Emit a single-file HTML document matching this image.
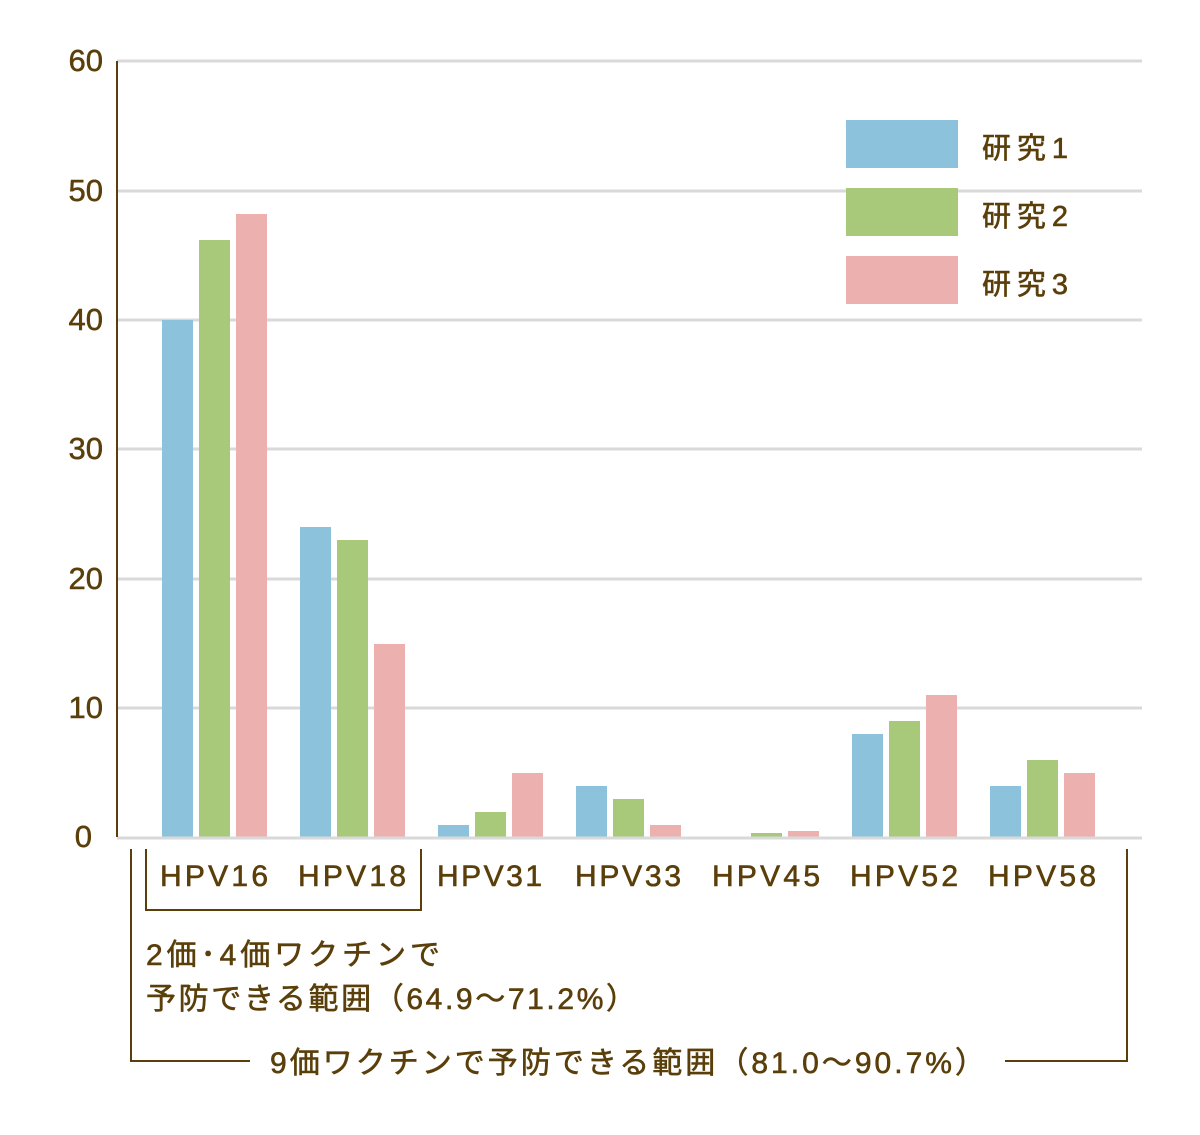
<!DOCTYPE html>
<html><head><meta charset="utf-8"><style>body{margin:0;background:#fff}</style></head><body>
<svg width="1200" height="1130" xmlns="http://www.w3.org/2000/svg" font-family="'Liberation Sans','Noto Sans CJK JP',sans-serif" fill="#5a3f0a">
<g stroke="#d9d9d9" stroke-width="3">
<line x1="117" y1="61" x2="1142" y2="61"/><line x1="117" y1="191" x2="1142" y2="191"/><line x1="117" y1="320" x2="1142" y2="320"/><line x1="117" y1="449" x2="1142" y2="449"/><line x1="117" y1="579" x2="1142" y2="579"/><line x1="117" y1="708" x2="1142" y2="708"/>
</g>
<g font-size="31" text-anchor="end" stroke="#5a3f0a" stroke-width="0.5">
<text x="103" y="71">60</text><text x="103" y="201">50</text><text x="103" y="330">40</text><text x="103" y="459">30</text><text x="103" y="589">20</text><text x="103" y="718">10</text><text x="92" y="847">0</text>
</g>
<g>
<rect x="162" y="320" width="31" height="517" fill="#8cc2dc"/><rect x="199" y="240" width="31" height="597" fill="#a8c97a"/><rect x="236" y="214" width="31" height="623" fill="#ecb1ae"/>
<rect x="300" y="527" width="31" height="310" fill="#8cc2dc"/><rect x="337" y="540" width="31" height="297" fill="#a8c97a"/><rect x="374" y="644" width="31" height="193" fill="#ecb1ae"/>
<rect x="438" y="825" width="31" height="12" fill="#8cc2dc"/><rect x="475" y="812" width="31" height="25" fill="#a8c97a"/><rect x="512" y="773" width="31" height="64" fill="#ecb1ae"/>
<rect x="576" y="786" width="31" height="51" fill="#8cc2dc"/><rect x="613" y="799" width="31" height="38" fill="#a8c97a"/><rect x="650" y="825" width="31" height="12" fill="#ecb1ae"/>
<rect x="751" y="833" width="31" height="4" fill="#a8c97a"/><rect x="788" y="831" width="31" height="6" fill="#ecb1ae"/>
<rect x="852" y="734" width="31" height="103" fill="#8cc2dc"/><rect x="889" y="721" width="31" height="116" fill="#a8c97a"/><rect x="926" y="695" width="31" height="142" fill="#ecb1ae"/>
<rect x="990" y="786" width="31" height="51" fill="#8cc2dc"/><rect x="1027" y="760" width="31" height="77" fill="#a8c97a"/><rect x="1064" y="773" width="31" height="64" fill="#ecb1ae"/>
</g>
<line x1="117" y1="838" x2="1142" y2="838" stroke="#d9d9d9" stroke-width="3"/>
<line x1="117" y1="61" x2="117" y2="837" stroke="#5a3f0a" stroke-width="2"/>
<g font-size="30" stroke="#5a3f0a" stroke-width="0.6">
<text x="160" y="886" textLength="108">HPV16</text><text x="298" y="886" textLength="108">HPV18</text><text x="437" y="886" textLength="105">HPV31</text><text x="575" y="886" textLength="106">HPV33</text><text x="712" y="886" textLength="108">HPV45</text><text x="850" y="886" textLength="108">HPV52</text><text x="988" y="886" textLength="108">HPV58</text>
</g>
<g fill="none" stroke="#5a3f0a" stroke-width="2">
<polyline points="146,849 146,910 421,910 421,849"/>
<polyline points="131,849 131,1061 250,1061"/>
<polyline points="1005,1061 1127,1061 1127,849"/>
</g>
<g font-size="30" stroke="#5a3f0a" stroke-width="0.6">
<text x="146" y="965" textLength="294">2価･4価ワクチンで</text>
<text x="146" y="1009" textLength="490">予防できる範囲（64.9～71.2%）</text>
<text x="270" y="1073" textLength="715">9価ワクチンで予防できる範囲（81.0～90.7%）</text>
</g>
<rect x="846" y="120" width="112" height="48" fill="#8cc2dc"/>
<rect x="846" y="188" width="112" height="48" fill="#a8c97a"/>
<rect x="846" y="256" width="112" height="48" fill="#ecb1ae"/>
<g font-size="29" stroke="#5a3f0a" stroke-width="0.6">
<text x="982" y="158" textLength="86">研究1</text><text x="982" y="226" textLength="86">研究2</text><text x="982" y="294" textLength="86">研究3</text>
</g>
</svg>
</body></html>
